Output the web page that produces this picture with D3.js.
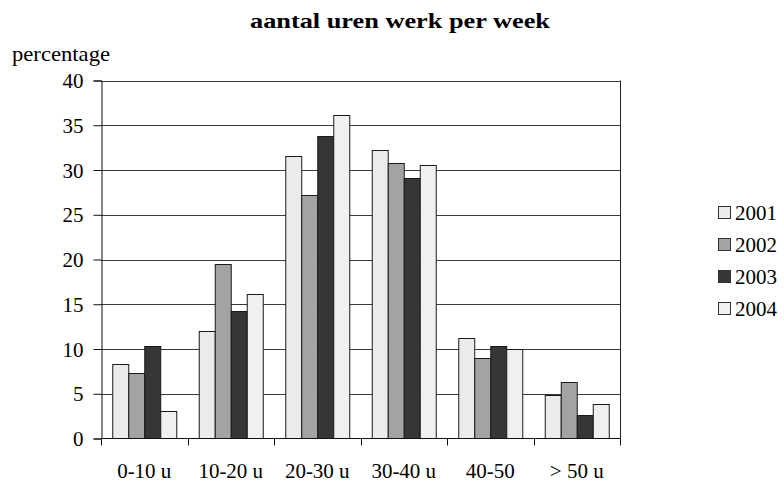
<!DOCTYPE html>
<html><head><meta charset="utf-8">
<script src="https://cdn.jsdelivr.net/npm/d3@7"></script>
<style>body{margin:0;background:#fff}svg{display:block}</style>
</head><body><svg id="c" width="784" height="484" font-family="Liberation Serif"></svg>
<script>
const categories = ["0-10 u","10-20 u","20-30 u","30-40 u","40-50","> 50 u"];
const years = ["2001","2002","2003","2004"];
const v2001 = [8.3,12.0,31.6,32.2,11.2,4.9];
const v2002 = [7.3,19.5,27.2,30.8,9.0,6.3];
const v2003 = [10.3,14.2,33.8,29.1,10.3,2.6];
const v2004 = [3.1,16.2,36.2,30.6,10.0,3.9];
const yTicks = [0,5,10,15,20,25,30,35,40];
const colors = ["#ebebeb","#a3a3a3","#363636","#f0f0f0"];
const series = [v2001,v2002,v2003,v2004];
const FONT = "Liberation Serif";

const svg = d3.select("#c");
const L=101,R=620,T=80.5,B=438.5;
const x = d3.scaleBand().domain(categories).range([L,R]).paddingInner(0.26).paddingOuter(0.13);
const xb = d3.scaleBand().domain(categories).range([L,R]);
const y = d3.scaleLinear().domain([0,40]).range([B,T]);
const xs = d3.scaleBand().domain(years).range([0,x.bandwidth()]);

// gridlines
svg.append("g").selectAll("line").data(yTicks.filter(d=>d>0)).join("line")
  .attr("x1",L).attr("x2",R).attr("y1",d=>Math.round(y(d))+0.5).attr("y2",d=>Math.round(y(d))+0.5)
  .attr("stroke","#3a3a3a").attr("stroke-width",1);
// right border
svg.append("line").attr("x1",R+0.5).attr("x2",R+0.5).attr("y1",T).attr("y2",B).attr("stroke","#222");

// bars
const g = svg.append("g");
series.forEach((vals,i)=>{
  g.selectAll(null).data(categories).join("rect")
   .attr("x",c=>x(c)+xs(years[i])+0.5)
   .attr("y",(c,j)=>Math.round(y(vals[j]))+0.5)
   .attr("width",xs.bandwidth())
   .attr("height",(c,j)=>B-Math.round(y(vals[j]))-0.5)
   .attr("fill",colors[i]).attr("stroke","#1a1a1a").attr("stroke-width",1);
});

// y axis
const ya = svg.append("g").attr("transform",`translate(${L+0.5},0)`)
  .call(d3.axisLeft(y).tickValues(yTicks).tickSize(8).tickPadding(10).tickFormat(d3.format("d")));
ya.attr("font-family",FONT).attr("font-size",21);
ya.select(".domain").attr("stroke","#111");
ya.selectAll(".tick line").attr("stroke","#111");
ya.selectAll("text").attr("font-family",FONT).attr("font-size",21).attr("dy","0.34em");

// x axis
svg.append("line").attr("x1",L).attr("x2",R+1).attr("y1",B).attr("y2",B).attr("stroke","#111");
const bounds = categories.map(c=>xb(c)).concat([R]);
svg.append("g").selectAll("line").data(bounds).join("line")
  .attr("x1",d=>Math.round(d)+0.5).attr("x2",d=>Math.round(d)+0.5).attr("y1",B).attr("y2",B+7).attr("stroke","#111");
svg.append("g").selectAll("text").data(categories).join("text")
  .attr("x",c=>xb(c)+xb.bandwidth()/2).attr("y",478).attr("text-anchor","middle")
  .attr("font-family",FONT).attr("font-size",21).text(c=>c);

// title
svg.append("text").attr("x",400).attr("y",28).attr("text-anchor","middle")
  .attr("font-family",FONT).attr("font-size",21).attr("font-weight","bold")
  .attr("textLength",300).attr("lengthAdjust","spacingAndGlyphs").text("aantal uren werk per week");
svg.append("text").attr("x",12).attr("y",61).attr("font-family",FONT).attr("font-size",21)
  .attr("textLength",98).attr("lengthAdjust","spacingAndGlyphs").text("percentage");

// legend
const lg = svg.append("g").selectAll("g").data(years).join("g")
  .attr("transform",(d,i)=>`translate(718,${206+i*32})`);
lg.append("rect").attr("x",0.5).attr("y",0.5).attr("width",12).attr("height",12)
  .attr("fill",(d,i)=>colors[i]).attr("stroke","#333");
lg.append("text").attr("x",17).attr("y",13.5).attr("font-family",FONT).attr("font-size",21).text(d=>d);
</script></body></html>
